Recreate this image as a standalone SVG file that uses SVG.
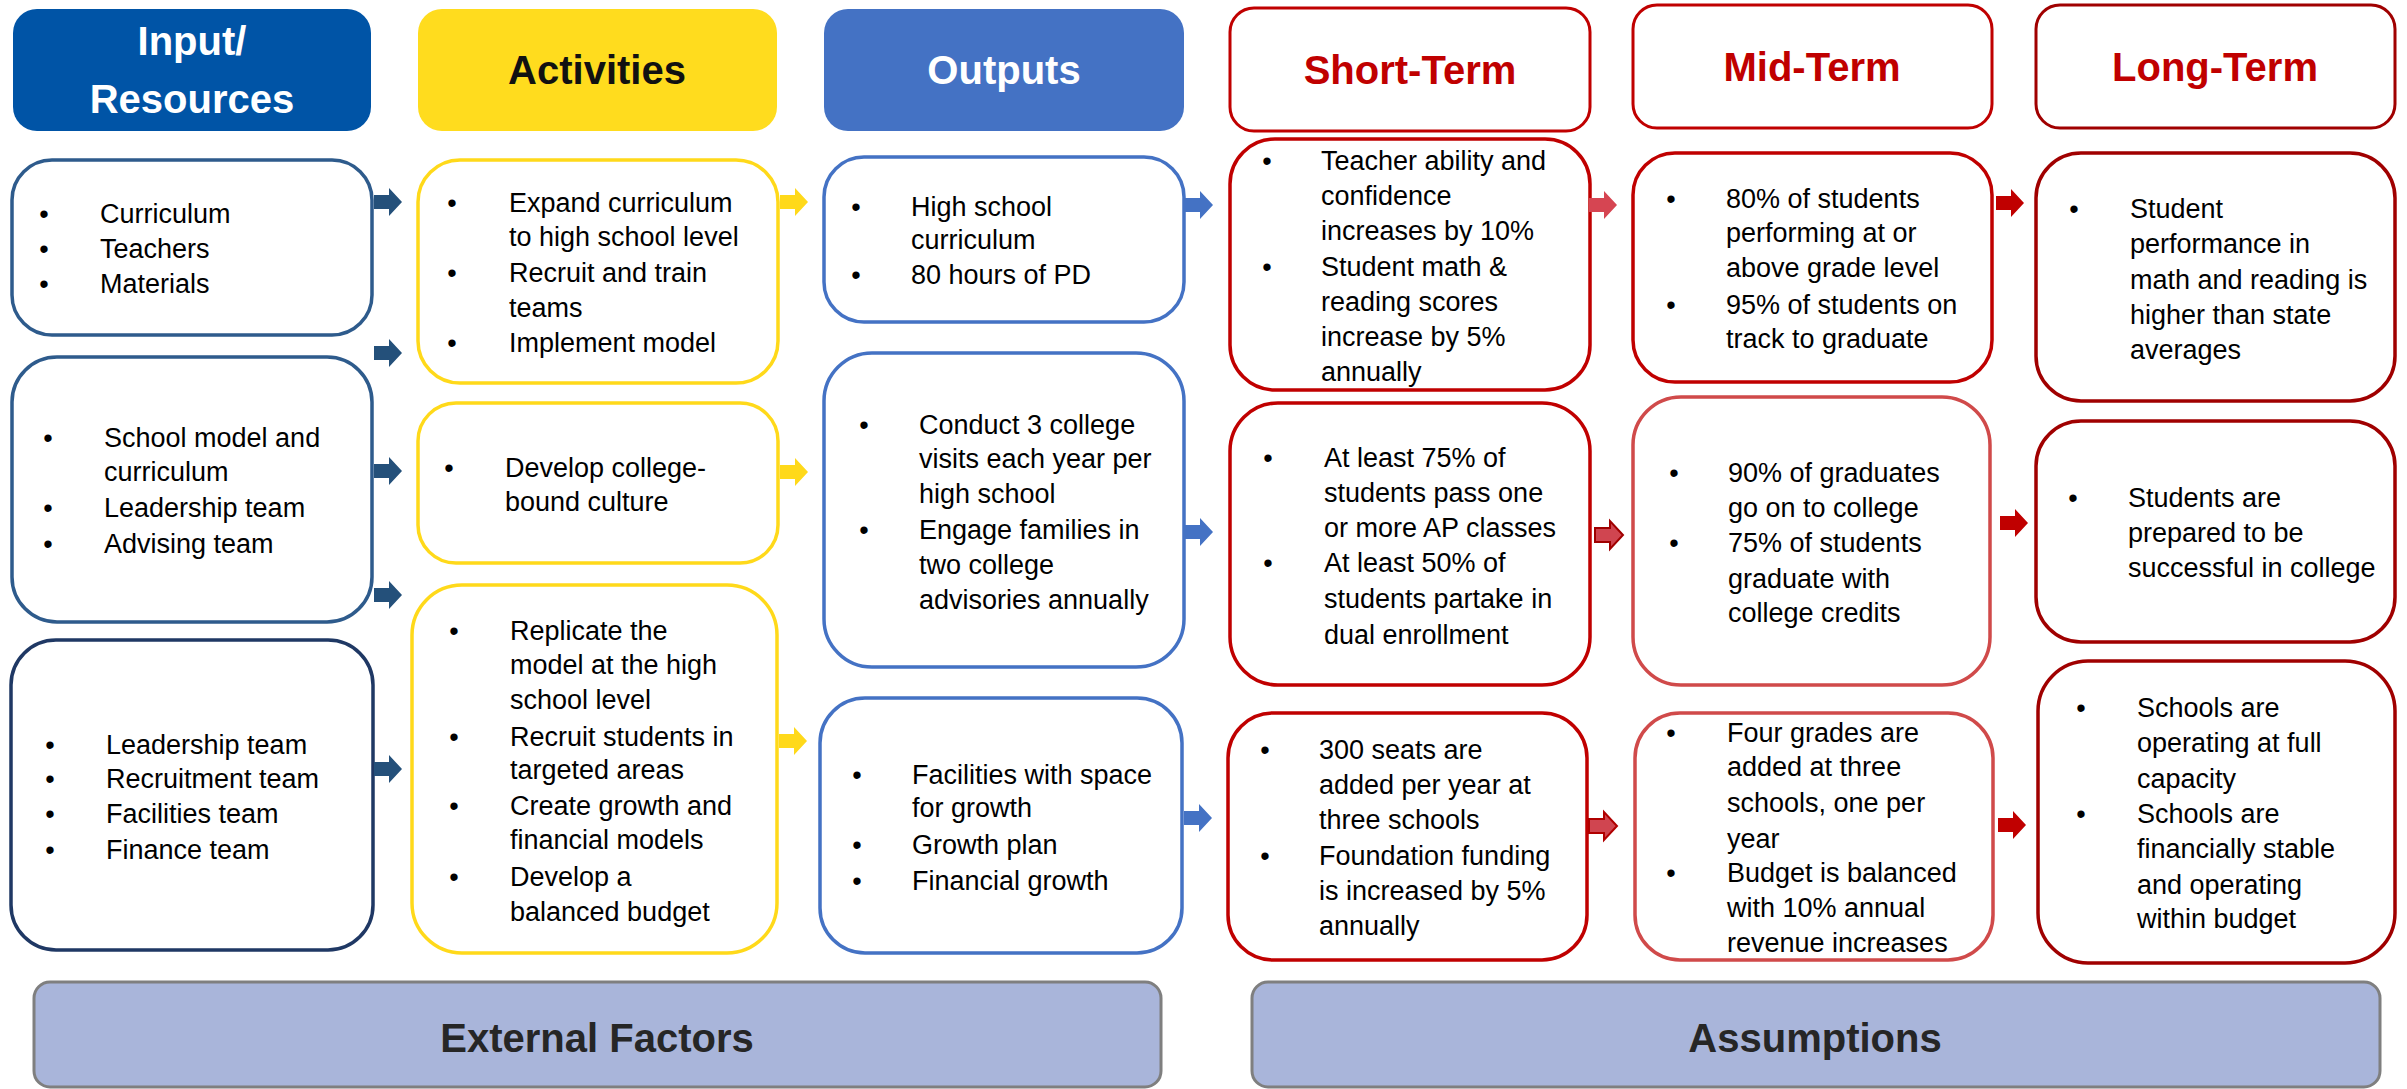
<svg xmlns="http://www.w3.org/2000/svg" width="2407" height="1089" viewBox="0 0 2407 1089">
<style>
.hd{font-family:"Liberation Sans",Arial,sans-serif;font-weight:bold;font-size:40px;text-anchor:middle}
.t{font-family:"Liberation Sans",Arial,sans-serif;font-size:27px;fill:#000}
.b{font-family:"Liberation Sans",Arial,sans-serif;font-size:27px;fill:#000;text-anchor:middle}
.box{fill:#fff;stroke-width:3.5}
.in{stroke:#2E5B8C}
.in3{stroke:#1F3864}
.act{stroke:#FFD91A}
.out{stroke:#4472C4}
.st{stroke:#C00000}
.md{stroke:#C00000}
.md2{stroke:#D04A4A}
.lg{stroke:#A00000}
.ft{font-family:"Liberation Sans",Arial,sans-serif;font-weight:bold;font-size:40px;text-anchor:middle;fill:#262626}
</style>
<defs>
<path id="arr" d="M0,-7 H15 V-14 L28,0 L15,14 V7 H0 Z"/>
</defs>
<rect width="2407" height="1089" fill="#fff"/>

<g id="h-input"><rect x="13" y="9" width="358" height="122" rx="24" fill="#0054A6"/><text class="hd" x="192" y="55" fill="#fff">Input/</text><text class="hd" x="192" y="113" fill="#fff">Resources</text></g>
<g id="h-activities"><rect x="418" y="9" width="359" height="122" rx="24" fill="#FFDC1E"/><text class="hd" x="597" y="84" fill="#111">Activities</text></g>
<g id="h-outputs"><rect x="824" y="9" width="360" height="122" rx="24" fill="#4472C4"/><text class="hd" x="1004" y="84" fill="#fff">Outputs</text></g>
<g id="h-short"><rect x="1230" y="8" width="360" height="123" rx="24" fill="#fff" stroke="#C00000" stroke-width="3"/><text class="hd" x="1410" y="84" fill="#C00000">Short-Term</text></g>
<g id="h-mid"><rect x="1633" y="5" width="359" height="123" rx="24" fill="#fff" stroke="#C00000" stroke-width="3"/><text class="hd" x="1812" y="81" fill="#C00000">Mid-Term</text></g>
<g id="h-long"><rect x="2036" y="5" width="359" height="123" rx="24" fill="#fff" stroke="#A00000" stroke-width="3"/><text class="hd" x="2215" y="81" fill="#C00000">Long-Term</text></g>

<g id="in1"><rect class="box in" x="12" y="160" width="360" height="175" rx="40"/>
<text class="b" x="44" y="223">•</text><text class="t" x="100" y="223">Curriculum</text>
<text class="b" x="44" y="258">•</text><text class="t" x="100" y="258">Teachers</text>
<text class="b" x="44" y="293">•</text><text class="t" x="100" y="293">Materials</text></g>
<g id="in2"><rect class="box in" x="12" y="357" width="360" height="265" rx="45"/>
<text class="b" x="48" y="447">•</text><text class="t" x="104" y="447">School model and</text>
<text class="t" x="104" y="481">curriculum</text>
<text class="b" x="48" y="517">•</text><text class="t" x="104" y="517">Leadership team</text>
<text class="b" x="48" y="553">•</text><text class="t" x="104" y="553">Advising team</text></g>
<g id="in3"><rect class="box in3" x="11" y="640" width="362" height="310" rx="45"/>
<text class="b" x="50" y="754">•</text><text class="t" x="106" y="754">Leadership team</text>
<text class="b" x="50" y="788">•</text><text class="t" x="106" y="788">Recruitment team</text>
<text class="b" x="50" y="823">•</text><text class="t" x="106" y="823">Facilities team</text>
<text class="b" x="50" y="859">•</text><text class="t" x="106" y="859">Finance team</text></g>

<g id="act1"><rect class="box act" x="418" y="160" width="360" height="223" rx="42"/>
<text class="b" x="452" y="212">•</text><text class="t" x="509" y="212">Expand curriculum</text>
<text class="t" x="509" y="246">to high school level</text>
<text class="b" x="452" y="282">•</text><text class="t" x="509" y="282">Recruit and train</text>
<text class="t" x="509" y="317">teams</text>
<text class="b" x="452" y="352">•</text><text class="t" x="509" y="352">Implement model</text></g>
<g id="act2"><rect class="box act" x="418" y="403" width="360" height="160" rx="38"/>
<text class="b" x="449" y="477">•</text><text class="t" x="505" y="477">Develop college-</text>
<text class="t" x="505" y="511">bound culture</text></g>
<g id="act3"><rect class="box act" x="412" y="585" width="365" height="368" rx="50"/>
<text class="b" x="454" y="640">•</text><text class="t" x="510" y="640">Replicate the</text>
<text class="t" x="510" y="674">model at the high</text>
<text class="t" x="510" y="709">school level</text>
<text class="b" x="454" y="746">•</text><text class="t" x="510" y="746">Recruit students in</text>
<text class="t" x="510" y="779">targeted areas</text>
<text class="b" x="454" y="815">•</text><text class="t" x="510" y="815">Create growth and</text>
<text class="t" x="510" y="849">financial models</text>
<text class="b" x="454" y="886">•</text><text class="t" x="510" y="886">Develop a</text>
<text class="t" x="510" y="921">balanced budget</text></g>

<g id="out1"><rect class="box out" x="824" y="157" width="360" height="165" rx="40"/>
<text class="b" x="856" y="216">•</text><text class="t" x="911" y="216">High school</text>
<text class="t" x="911" y="249">curriculum</text>
<text class="b" x="856" y="284">•</text><text class="t" x="911" y="284">80 hours of PD</text></g>
<g id="out2"><rect class="box out" x="824" y="353" width="360" height="314" rx="48"/>
<text class="b" x="864" y="434">•</text><text class="t" x="919" y="434">Conduct 3 college</text>
<text class="t" x="919" y="468">visits each year per</text>
<text class="t" x="919" y="503">high school</text>
<text class="b" x="864" y="539">•</text><text class="t" x="919" y="539">Engage families in</text>
<text class="t" x="919" y="574">two college</text>
<text class="t" x="919" y="609">advisories annually</text></g>
<g id="out3"><rect class="box out" x="820" y="698" width="362" height="255" rx="45"/>
<text class="b" x="857" y="784">•</text><text class="t" x="912" y="784">Facilities with space</text>
<text class="t" x="912" y="817">for growth</text>
<text class="b" x="857" y="854">•</text><text class="t" x="912" y="854">Growth plan</text>
<text class="b" x="857" y="890">•</text><text class="t" x="912" y="890">Financial growth</text></g>

<g id="st1"><rect class="box st" x="1230" y="139" width="360" height="251" rx="45"/>
<text class="b" x="1267" y="170">•</text><text class="t" x="1321" y="170">Teacher ability and</text>
<text class="t" x="1321" y="205">confidence</text>
<text class="t" x="1321" y="240">increases by 10%</text>
<text class="b" x="1267" y="276">•</text><text class="t" x="1321" y="276">Student math &amp;</text>
<text class="t" x="1321" y="311">reading scores</text>
<text class="t" x="1321" y="346">increase by 5%</text>
<text class="t" x="1321" y="381">annually</text></g>
<g id="st2"><rect class="box st" x="1230" y="403" width="360" height="282" rx="48"/>
<text class="b" x="1268" y="467">•</text><text class="t" x="1324" y="467">At least 75% of</text>
<text class="t" x="1324" y="502">students pass one</text>
<text class="t" x="1324" y="537">or more AP classes</text>
<text class="b" x="1268" y="572">•</text><text class="t" x="1324" y="572">At least 50% of</text>
<text class="t" x="1324" y="608">students partake in</text>
<text class="t" x="1324" y="644">dual enrollment</text></g>
<g id="st3"><rect class="box st" x="1228" y="713" width="359" height="247" rx="45"/>
<text class="b" x="1265" y="759">•</text><text class="t" x="1319" y="759">300  seats are</text>
<text class="t" x="1319" y="794">added per year at</text>
<text class="t" x="1319" y="829">three schools</text>
<text class="b" x="1265" y="865">•</text><text class="t" x="1319" y="865">Foundation funding</text>
<text class="t" x="1319" y="900">is increased by 5%</text>
<text class="t" x="1319" y="935">annually</text></g>

<g id="md1"><rect class="box md" x="1633" y="153" width="359" height="229" rx="42"/>
<text class="b" x="1671" y="208">•</text><text class="t" x="1726" y="208">80% of students</text>
<text class="t" x="1726" y="242">performing at or</text>
<text class="t" x="1726" y="277">above grade level</text>
<text class="b" x="1671" y="314">•</text><text class="t" x="1726" y="314">95% of students on</text>
<text class="t" x="1726" y="348">track to graduate</text></g>
<g id="md2"><rect class="box md2" x="1633" y="397" width="357" height="288" rx="48"/>
<text class="b" x="1674" y="482">•</text><text class="t" x="1728" y="482">90% of graduates</text>
<text class="t" x="1728" y="517">go on to college</text>
<text class="b" x="1674" y="552">•</text><text class="t" x="1728" y="552">75% of students</text>
<text class="t" x="1728" y="588">graduate with</text>
<text class="t" x="1728" y="622">college credits</text></g>
<g id="md3"><rect class="box md2" x="1635" y="713" width="358" height="247" rx="45"/>
<text class="b" x="1671" y="742">•</text><text class="t" x="1727" y="742">Four grades are</text>
<text class="t" x="1727" y="776">added at three</text>
<text class="t" x="1727" y="812">schools, one per</text>
<text class="t" x="1727" y="848">year</text>
<text class="b" x="1671" y="882">•</text><text class="t" x="1727" y="882">Budget is balanced</text>
<text class="t" x="1727" y="917">with 10% annual</text>
<text class="t" x="1727" y="952">revenue increases</text></g>

<g id="lg1"><rect class="box lg" x="2036" y="153" width="359" height="248" rx="45"/>
<text class="b" x="2074" y="218">•</text><text class="t" x="2130" y="218">Student</text>
<text class="t" x="2130" y="253">performance in</text>
<text class="t" x="2130" y="289">math and reading is</text>
<text class="t" x="2130" y="324">higher than state</text>
<text class="t" x="2130" y="359">averages</text></g>
<g id="lg2"><rect class="box lg" x="2036" y="421" width="359" height="221" rx="45"/>
<text class="b" x="2073" y="507">•</text><text class="t" x="2128" y="507">Students are</text>
<text class="t" x="2128" y="542">prepared to be</text>
<text class="t" x="2128" y="577">successful in college</text></g>
<g id="lg3"><rect class="box lg" x="2038" y="661" width="357" height="302" rx="50"/>
<text class="b" x="2081" y="717">•</text><text class="t" x="2137" y="717">Schools are</text>
<text class="t" x="2137" y="752">operating at full</text>
<text class="t" x="2137" y="788">capacity</text>
<text class="b" x="2081" y="823">•</text><text class="t" x="2137" y="823">Schools are</text>
<text class="t" x="2137" y="858">financially stable</text>
<text class="t" x="2137" y="894">and operating</text>
<text class="t" x="2137" y="928">within budget</text></g>

<g id="ext"><rect x="34" y="982" width="1127" height="105" rx="16" fill="#A9B5DA" stroke="#7F7F7F" stroke-width="3"/><text class="ft" x="597" y="1052">External Factors</text></g>
<g id="assump"><rect x="1252" y="982" width="1128" height="105" rx="16" fill="#A9B5DA" stroke="#7F7F7F" stroke-width="3"/><text class="ft" x="1815" y="1052">Assumptions</text></g>

<g id="connectors">
<use href="#arr" x="374" y="202" fill="#24507A"/>
<use href="#arr" x="374" y="353" fill="#24507A"/>
<use href="#arr" x="374" y="471" fill="#24507A"/>
<use href="#arr" x="374" y="595" fill="#24507A"/>
<use href="#arr" x="374" y="769" fill="#24507A"/>
<use href="#arr" x="780" y="202" fill="#FFD91A"/>
<use href="#arr" x="780" y="472" fill="#FFD91A"/>
<use href="#arr" x="779" y="741" fill="#FFD91A"/>
<use href="#arr" x="1185" y="205" fill="#4472C4"/>
<use href="#arr" x="1185" y="532" fill="#4472C4"/>
<use href="#arr" x="1184" y="818" fill="#4472C4"/>
<use href="#arr" x="1589" y="205" fill="#D64552"/>
<use href="#arr" x="1595" y="535" fill="#D04550" stroke="#A00000" stroke-width="2"/>
<use href="#arr" x="1589" y="826" fill="#D04550" stroke="#B00000" stroke-width="2"/>
<use href="#arr" x="1996" y="203" fill="#C00000"/>
<use href="#arr" x="2000" y="523" fill="#C00000"/>
<use href="#arr" x="1998" y="825" fill="#C00000"/>
</g>
</svg>
